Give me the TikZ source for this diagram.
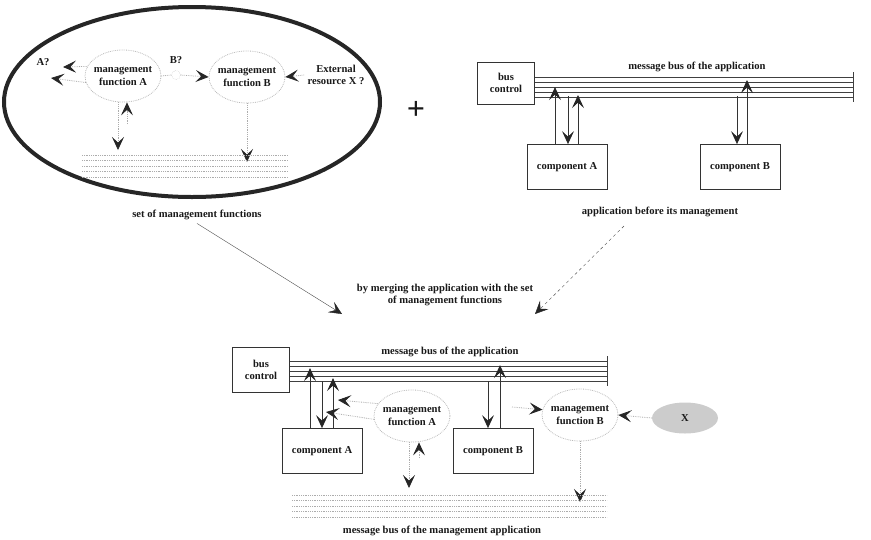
\documentclass[tikz,border=0pt]{standalone}
\usepackage{fontspec}
\setmainfont{Liberation Serif}
\usetikzlibrary{arrows.meta,shapes.geometric}

\begin{document}
\begin{tikzpicture}[x=1pt, y=-1pt, font=\fontsize{10.6}{12.5}\selectfont\bfseries, text=black!90,
    headarr/.style={-{Stealth[length=13pt,width=12pt,inset=5.5pt,color=black!85]}},
    dots/.style={draw=gray!65, densely dotted, thick},
    solidarr/.style={draw=black!80, line width=0.9pt},
    compbox/.style={draw=black!80, thick, minimum width=80pt, minimum height=45pt},
    ctrlbox/.style={draw=black!80, thick, minimum width=57pt, minimum height=42pt, align=center},
    mgmtfn/.style={ellipse, draw=gray!55, densely dotted, thick, inner xsep=-5pt, inner ysep=0pt,
                   minimum width=76pt, minimum height=52pt, align=center},
    busline/.style={black!75, line width=0.7pt},
    mgmtbus/.style={gray!65, densely dotted, line width=0.8pt},]

\useasboundingbox (0,0) rectangle (871,539);

% set of management functions
\node (setfn) [ellipse, draw=black!85, line width=4pt, minimum width=376pt, minimum height=190pt] at (192,102) {};
\node (fa1) [mgmtfn] at (123,76) {management\\function A};
\node (fb1) [mgmtfn] at (247,77) {management\\function B};
\node (aq) at (43,62) {A?};
\node (bq) at (176,60) {B?};
\node (bcirc) [circle, draw=gray!60, densely dotted, minimum size=9pt, inner sep=0pt] at (176,75) {};
\node (xq) [align=center] at (336,75) {External\\resource X ?};
\node (setlbl) at (197,215) {set of management functions};

\draw[dots, headarr] (fa1.165) -- (63,67);
\draw[dots, headarr] (fa1.190) -- (51,78);
\draw[dots] (fa1.east) -- (bcirc.west);
\draw[dots, headarr] (bcirc.east) -- (fb1.west);
\draw[dots, headarr] (xq.west) -- (fb1.east);
\draw[dots, headarr] ([xshift=-5pt]fa1.south) -- (118,150);
\draw[dots, headarr] (127,124) -- ([xshift=4pt]fa1.south);
\draw[dots, headarr] (fb1.south) -- (247,162);
\foreach \y in {155,160.5,166,171.5,177}
    \draw[mgmtbus] (82,\y) -- (288,\y);

\node (plus) at (416,110) {\fontsize{32}{32}\selectfont +};

% application before its management
\draw[black!85, line width=0.8pt, double, double distance=1.2pt] (455,37) rectangle (867,200);
\node (bc1) [ctrlbox] at (506,83) {bus\\control};
\node (bus1) at (697,67) {message bus of the application};
\foreach \y in {77,82,87,92,97}
    \draw[busline] (bc1.east |- 0,\y) -- (853,\y);
\draw[busline] (853,72) -- (853,102);
\node (ca1) [compbox] at (567,167) {component A};
\node (cb1) [compbox] at (740,167) {component B};
\node (applbl) at (660,212) {application before its management};

\draw[solidarr, headarr] ([xshift=-12pt]ca1.north) -- ++(0,-57);
\draw[solidarr, headarr] ([xshift=1pt]ca1.north) ++(0,-48) -- ([xshift=1pt]ca1.north);
\draw[solidarr, headarr] ([xshift=11pt]ca1.north) -- ++(0,-49);
\draw[solidarr, headarr] ([xshift=-3pt]cb1.north) ++(0,-48) -- ([xshift=-3pt]cb1.north);
\draw[solidarr, headarr] ([xshift=7pt]cb1.north) -- ++(0,-64);

% merging
\node (merge) [align=center] at (445,295) {by merging the application with the set\\of management functions};
\coordinate (mleft) at (342,314);
\coordinate (mright) at (535,314);
\coordinate (rstart) at (624,226);
\draw[gray!60!black, thin, headarr] (setlbl.south) -- (mleft);
\draw[gray!60!black, thin, dashed, headarr] (rstart) -- (mright);

% application after its management
\node (bc2) [ctrlbox, minimum height=45pt] at (261,370) {bus\\control};
\node (bus2) at (450,352) {message bus of the application};
\foreach \y in {361,366,371,376,381}
    \draw[busline] (bc2.east |- 0,\y) -- (607,\y);
\draw[busline] (607,356) -- (607,386);
\node (ca2) [compbox] at (322,451) {component A};
\node (cb2) [compbox] at (493,451) {component B};
\node (fa2) [mgmtfn] at (412,416) {management\\function A};
\node (fb2) [mgmtfn] at (580,415) {management\\function B};
\node (xres) [ellipse, fill=gray!40, minimum width=66pt, minimum height=31pt] at (685,418) {X};
\node (mbus) at (442,531) {message bus of the management application};

\draw[solidarr, headarr] ([xshift=-12pt]ca2.north) -- ++(0,-60);
\draw[solidarr, headarr] ([xshift=0pt]ca2.north) ++(0,-47) -- (ca2.north);
\draw[solidarr, headarr] ([xshift=11pt]ca2.north) -- ++(0,-50);
\draw[solidarr, headarr] ([xshift=-5pt]cb2.north) ++(0,-47) -- ([xshift=-5pt]cb2.north);
\draw[solidarr, headarr] ([xshift=7pt]cb2.north) -- ++(0,-63);

\draw[dots, headarr] (fa2.160) -- (338,400);
\draw[dots, headarr] (fa2.185) -- (326,412);
\draw[dots, headarr] ([xshift=-3pt]fa2.south) -- (409,488);
\draw[dots, headarr] (419,458) -- ([xshift=7pt]fa2.south);
\draw[dots, headarr] (512,407) -- (fb2.172);
\draw[dots, headarr] (xres.west) -- (fb2.east);
\draw[dots, headarr] (fb2.south) -- (580,502);
\foreach \y in {495,500.5,506,511.5,517}
    \draw[mgmtbus] (292,\y) -- (607,\y);

\end{tikzpicture}
\end{document}
